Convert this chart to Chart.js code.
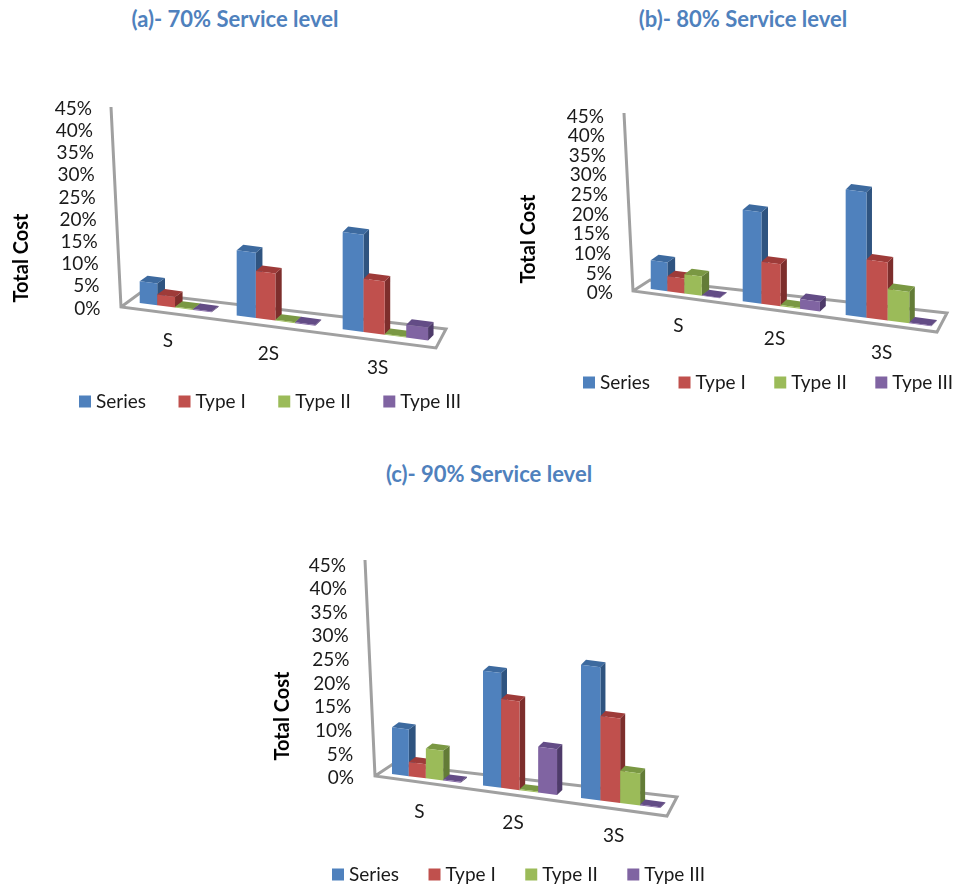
<!DOCTYPE html>
<html>
<head>
<meta charset="utf-8">
<title>Total cost by service level</title>
<script src="https://cdn.jsdelivr.net/npm/chart.js@4"></script>
<style>
    html, body { margin: 0; padding: 0; background: #fff; overflow: hidden; }
    body { position: relative; width: 958px; height: 888px; }
    canvas { position: absolute; }
    .ttl { position: absolute; font: bold 22px Lato, sans-serif; color: #4F81BD; white-space: nowrap; transform: translate(-50%, -50%); }
</style>
</head>
<body>
<div class="ttl" style="left:235px;top:18px">(a)- 70% Service level</div>
<div class="ttl" style="left:743px;top:18px">(b)- 80% Service level</div>
<div class="ttl" style="left:489px;top:473px">(c)- 90% Service level</div>
<canvas id="chartA" width="500" height="421" style="left:0;top:0"></canvas>
<canvas id="chartB" width="500" height="402" style="left:520px;top:0"></canvas>
<canvas id="chartC" width="500" height="354" style="left:260px;top:540px"></canvas>
<script>
var categories = ['S', '2S', '3S'];
var seriesNames = ['Series', 'Type I', 'Type II', 'Type III'];
var tickValues = [0, 5, 10, 15, 20, 25, 30, 35, 40, 45];

var seriesA = [4.9, 14.7, 21.9];
var typeIA = [2.4, 10.6, 12];
var typeIIA = [0.2, 0.2, 0.2];
var typeIIIA = [0.2, 0.2, 2.9];

var seriesB = [7.3, 23.3, 32];
var typeIB = [3.8, 10.7, 14.8];
var typeIIB = [4.9, 0.3, 8];
var typeIIIB = [0.1, 2.5, 0.2];

var seriesC = [9.9, 24.3, 28.2];
var typeIC = [3, 18.8, 17.9];
var typeIIC = [6.3, 0.2, 6.8];
var typeIIIC = [0.2, 9.7, 0.2];

var front = ['#4F81BD', '#C0504D', '#9BBB59', '#8064A2'];
var topFace = ['#3D6A9F', '#9E3B39', '#7A9843', '#634C86'];
var sideFace = ['#2F5480', '#7D2E2C', '#637C37', '#4E3B6A'];
var FONT = 'Lato, sans-serif';

// all geometry below is in page pixels
var geoA = {
    id: 'chartA', left: 0, top: 0, height: 421,
    plotLeft: 127, plotRight: 431.5, plotTop: 107, plotBottom: 307,
    firstBar: 140, lastGroup: 343, bend: 0.000437, catPct: 0.75,
    slope: 0.13, baseY: 303, depth: [8, 5.5], rise: 5.5,
    labelRight: [100.5, 92], catDx: -7, catDy: 34,
    axisTitle: [22, 258],
    frame: [[111, 107], [121, 307], [436, 348], [446, 329], [140, 293], [121, 307]],
    legendX: 79, legendPad: 37
};
var geoB = {
    id: 'chartB', left: 520, top: 0, height: 402,
    plotLeft: 639, plotRight: 931.5, plotTop: 115, plotBottom: 291.5,
    firstBar: 651, lastGroup: 846, bend: 0.000579, catPct: 0.76,
    slope: 0.133, baseY: 289, depth: [8, 5.5], rise: 5.5,
    labelRight: [613, 604], catDx: -6, catDy: 33,
    axisTitle: [529, 239],
    frame: [[624, 113], [633, 291], [937, 332], [947, 313], [650, 280], [633, 291]],
    legendX: 583, legendPad: 33
};
var geoC = {
    id: 'chartC', left: 260, top: 540, height: 354,
    plotLeft: 380.75, plotRight: 664.25, plotTop: 564, plotBottom: 776.5,
    firstBar: 392, lastGroup: 581, bend: 0.00039, catPct: 0.762,
    slope: 0.127, baseY: 774, depth: [7, 5], rise: 5,
    labelRight: [354, 346], catDx: -6.5, catDy: 34,
    axisTitle: [283, 716],
    frame: [[365, 560], [375, 776], [667, 816], [677, 797], [393, 764], [375, 776]],
    legendX: 332, legendPad: 34
};

function makeChart(geo, values) {
    var legendH = 19 + geo.legendPad + 10;
    var canvasW = document.getElementById(geo.id).width;
    var swatchStroke = 9; // legend swatch = 3px box + 9px stroke, keeps the text close to a 12px square

    // bars lean on a tilted floor, so x bends a little and y follows the floor
    function bendX(x) {
        var lx = geo.left + x;
        return lx + geo.bend * (lx - geo.firstBar) * (lx - geo.lastGroup) - geo.left;
    }
    function shift(x) {
        return geo.baseY - geo.plotBottom + geo.slope * (x + geo.left - geo.firstBar);
    }
    function depthAt(x) {
        var t = (x + geo.left - geo.firstBar) / (geo.lastGroup - geo.firstBar);
        return geo.depth[0] + (geo.depth[1] - geo.depth[0]) * Math.min(t, 1);
    }
    function poly(ctx, color, pts) {
        ctx.fillStyle = color;
        ctx.beginPath();
        pts.forEach(function (p, i) {
            if (i) { ctx.lineTo(p[0], p[1]); } else { ctx.moveTo(p[0], p[1]); }
        });
        ctx.closePath();
        ctx.fill();
    }
    function drawBar(ctx, el, n) {
        var xl = bendX(el.x - el.width / 2);
        var xr = bendX(el.x + el.width / 2);
        var tl = el.y + shift(xl), tr = el.y + shift(xr);
        var bl = el.base + shift(xl), br = el.base + shift(xr);
        var dx = depthAt(xr), dy = geo.rise;
        poly(ctx, sideFace[n], [[xr, br], [xr, tr], [xr + dx, tr - dy], [xr + dx, br - dy]]);
        poly(ctx, topFace[n], [[xl, tl], [xr, tr], [xr + dx, tr - dy], [xl + dx, tl - dy]]);
        poly(ctx, front[n], [[xl, tl], [xr, tr], [xr, br], [xl, bl]]);
    }
    function noDraw() {}

    var floorPlugin = {
        id: 'floor3d',
        beforeDatasetsDraw: function (chart) {
            var ctx = chart.ctx;
            ctx.save();
            ctx.strokeStyle = '#A0A0A0';
            ctx.lineWidth = 3;
            ctx.lineJoin = 'miter';
            ctx.beginPath();
            geo.frame.forEach(function (p, i) {
                if (i) { ctx.lineTo(p[0] - geo.left, p[1] - geo.top); } else { ctx.moveTo(p[0] - geo.left, p[1] - geo.top); }
            });
            ctx.stroke();
            ctx.restore();
            // the library would clip to the chart area and paint the last series first,
            // so the 3D boxes are painted here, left series first
            values.forEach(function (v, n) {
                chart.getDatasetMeta(n).data.forEach(function (el) {
                    el.draw = noDraw;
                    drawBar(ctx, el, n);
                });
            });
        },
        afterDraw: function (chart) {
            var ctx = chart.ctx, y = chart.scales.y, x = chart.scales.x;
            ctx.save();
            ctx.fillStyle = '#1a1a1a';
            ctx.textBaseline = 'middle';
            ctx.font = '19px ' + FONT;
            ctx.textAlign = 'right';
            y.ticks.forEach(function (t) {
                var f = t.value / 45;
                var right = geo.labelRight[0] + (geo.labelRight[1] - geo.labelRight[0]) * f - geo.left;
                ctx.fillText(t.label, right, y.getPixelForValue(t.value) + 1.5);
            });
            ctx.textAlign = 'center';
            x.ticks.forEach(function (t, i) {
                var px = bendX(x.getPixelForTick(i)) + geo.catDx;
                ctx.fillText(t.label, px, y.getPixelForValue(0) + shift(px) + geo.catDy);
            });
            ctx.translate(geo.axisTitle[0] - geo.left, geo.axisTitle[1] - geo.top);
            ctx.rotate(-Math.PI / 2);
            ctx.font = 'bold 20px ' + FONT;
            ctx.fillStyle = '#000';
            ctx.fillText('Total Cost', 0, 0);
            ctx.restore();
        }
    };

    return new Chart(document.getElementById(geo.id), {
        type: 'bar',
        data: {
            labels: categories,
            datasets: seriesNames.map(function (name, i) {
                return {
                    label: name,
                    data: values[i],
                    backgroundColor: front[i],
                    borderColor: front[i],
                    borderWidth: swatchStroke,
                    barPercentage: 1,
                    categoryPercentage: geo.catPct
                };
            })
        },
        options: {
            responsive: false,
            animation: false,
            events: [],
            layout: {
                padding: { left: geo.legendX + swatchStroke / 2 - geo.left - geo.legendPad, top: geo.plotTop - geo.top, right: 0, bottom: 0 }
            },
            plugins: {
                tooltip: { enabled: false },
                legend: {
                    position: 'bottom',
                    align: 'start',
                    labels: {
                        boxWidth: 3,
                        boxHeight: 3,
                        padding: geo.legendPad,
                        color: '#1a1a1a',
                        font: { family: FONT, size: 19 }
                    }
                }
            },
            scales: {
                x: {
                    grid: { display: false },
                    border: { display: false },
                    ticks: { display: false },
                    afterFit: function (s) {
                        s.height = geo.height - legendH - (geo.plotBottom - geo.top);
                    }
                },
                y: {
                    min: 0,
                    max: 45,
                    grid: { display: false },
                    border: { display: false },
                    ticks: {
                        display: false,
                        stepSize: tickValues[1] - tickValues[0],
                        callback: function (v) { return v + '%'; }
                    },
                    afterFit: function (s) {
                        s.width = geo.plotLeft - geo.legendX - swatchStroke / 2 + geo.legendPad;
                    }
                },
                pad: {
                    axis: 'y',
                    position: 'right',
                    grid: { display: false },
                    border: { display: false },
                    ticks: { display: false },
                    afterFit: function (s) {
                        s.width = canvasW - (geo.plotRight - geo.left);
                    }
                }
            }
        },
        plugins: [floorPlugin]
    });
}

makeChart(geoA, [seriesA, typeIA, typeIIA, typeIIIA]);
makeChart(geoB, [seriesB, typeIB, typeIIB, typeIIIB]);
makeChart(geoC, [seriesC, typeIC, typeIIC, typeIIIC]);
</script>
</body>
</html>
